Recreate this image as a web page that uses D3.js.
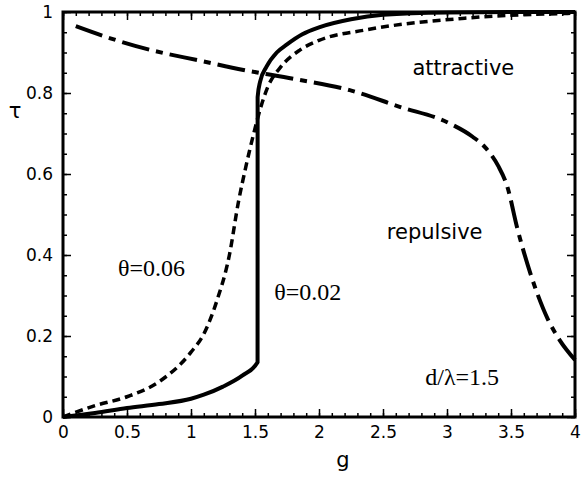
<!DOCTYPE html>
<html>
<head>
<meta charset="utf-8">
<script src="https://cdn.jsdelivr.net/npm/d3@7"></script>
<style>
  body { margin: 0; background: #fff; }
  .tick-label { font-family: "DejaVu Sans", sans-serif; font-size: 17px; fill: #000; }
  .sans-note { font-family: "DejaVu Sans", sans-serif; font-size: 21px; fill: #000; }
  .serif-note { font-family: "Liberation Serif", serif; font-size: 24px; fill: #000; }
</style>
</head>
<body>
<div id="chart"></div>
<script>
// Values
const gSolid = [0, 0.25, 0.5, 0.75, 1.0, 1.1, 1.25, 1.4, 1.52, 1.5205, 1.54, 1.59, 1.67, 1.75, 1.87, 2.0, 2.25, 2.5, 3.0, 3.5, 4.0];
const tauSolid = [0, 0.01, 0.022, 0.032, 0.045, 0.055, 0.075, 0.102, 0.135, 0.79, 0.828, 0.865, 0.9, 0.92, 0.945, 0.962, 0.982, 0.993, 0.999, 1.0, 1.0];

const gDashed = [0, 0.25, 0.5, 0.75, 1.0, 1.1, 1.2, 1.3, 1.37, 1.43, 1.49, 1.55, 1.6, 1.7, 1.85, 2.0, 2.37, 3.15, 4.0];
const tauDashed = [0, 0.028, 0.05, 0.087, 0.16, 0.205, 0.285, 0.4, 0.53, 0.62, 0.7, 0.77, 0.815, 0.864, 0.906, 0.93, 0.956, 0.985, 0.997];

const gDashDot = [0.1, 0.37, 0.7, 1.07, 1.41, 1.8, 2.24, 2.63, 3.02, 3.2, 3.3, 3.4, 3.47, 3.55, 3.65, 3.79, 3.88, 4.0];
const tauDashDot = [0.965, 0.935, 0.905, 0.88, 0.857, 0.835, 0.807, 0.766, 0.725, 0.692, 0.665, 0.62, 0.57, 0.465, 0.356, 0.24, 0.19, 0.141];

const xTicks = [0, 0.5, 1, 1.5, 2, 2.5, 3, 3.5, 4];
const xTickLabels = ['0', '0.5', '1', '1.5', '2', '2.5', '3', '3.5', '4'];
const yTicks = [0, 0.2, 0.4, 0.6, 0.8, 1];
const yTickLabels = ['0', '0.2', '0.4', '0.6', '0.8', '1'];

const notes = [
    { text: 'attractive', g: 2.73, tau: 0.845, cls: 'sans-note' },
    { text: 'repulsive', g: 2.53, tau: 0.44, cls: 'sans-note' },
    { text: 'θ=0.06', g: 0.43, tau: 0.348, cls: 'serif-note' },
    { text: 'θ=0.02', g: 1.65, tau: 0.289, cls: 'serif-note' },
    { text: 'd/λ=1.5', g: 2.83, tau: 0.08, cls: 'serif-note' }
];

const svgWidth = 581;
const svgHeight = 478;
const margin = { top: 12, right: 6, bottom: 61, left: 63 };
const width = svgWidth - margin.left - margin.right;
const height = svgHeight - margin.top - margin.bottom;

const svg = d3.select('#chart')
    .append('svg')
    .attr('width', svgWidth)
    .attr('height', svgHeight)
    .append('g')
    .attr('transform', `translate(${margin.left},${margin.top})`);

// Scales
const xScale = d3.scaleLinear().domain([0, 4]).range([0, width]);
const yScale = d3.scaleLinear().domain([0, 1]).range([height, 0]);

// Inward ticks on all four sides
const xMinor = d3.range(0, 4.001, 0.1).map(v => +v.toFixed(2));
const yMinor = d3.range(0, 1.001, 0.05).map(v => +v.toFixed(2));

function tickAxis(axisFn, scale, values, size, transform) {
    svg.append('g')
        .attr('transform', transform)
        .call(axisFn(scale).tickValues(values).tickSize(size).tickFormat(''))
        .call(g => g.select('.domain').remove())
        .call(g => g.selectAll('line').attr('stroke', '#000').attr('stroke-width', 1.5));
}
tickAxis(d3.axisTop, xScale, xMinor, 4, `translate(0,${height})`);
tickAxis(d3.axisTop, xScale, xTicks, 8, `translate(0,${height})`);
tickAxis(d3.axisBottom, xScale, xMinor, 4, 'translate(0,0)');
tickAxis(d3.axisBottom, xScale, xTicks, 8, 'translate(0,0)');
tickAxis(d3.axisRight, yScale, yMinor, 4, 'translate(0,0)');
tickAxis(d3.axisRight, yScale, yTicks, 8, 'translate(0,0)');
tickAxis(d3.axisLeft, yScale, yMinor, 4, `translate(${width},0)`);
tickAxis(d3.axisLeft, yScale, yTicks, 8, `translate(${width},0)`);

// Tick labels
svg.append('g')
    .attr('transform', `translate(0,${height})`)
    .call(d3.axisBottom(xScale).tickValues(xTicks).tickSize(0).tickPadding(9)
        .tickFormat((d, i) => xTickLabels[i]))
    .call(g => g.select('.domain').remove())
    .call(g => g.selectAll('text').attr('class', 'tick-label').attr('font-size', null).attr('font-family', null));
svg.append('g')
    .call(d3.axisLeft(yScale).tickValues(yTicks).tickSize(0).tickPadding(10)
        .tickFormat((d, i) => yTickLabels[i]))
    .call(g => g.select('.domain').remove())
    .call(g => g.selectAll('text').attr('class', 'tick-label').attr('font-size', null).attr('font-family', null));

// Curves
const line = d3.line()
    .x(d => xScale(d[0]))
    .y(d => yScale(d[1]))
    .curve(d3.curveMonotoneX);

svg.append('path')
    .datum(gDashDot.map((g, i) => [g, tauDashDot[i]]))
    .attr('fill', 'none')
    .attr('stroke', '#000')
    .attr('stroke-width', 4)
    .attr('stroke-dasharray', '28,7,7,7')
    .attr('d', line);

svg.append('path')
    .datum(gDashed.map((g, i) => [g, tauDashed[i]]))
    .attr('fill', 'none')
    .attr('stroke', '#000')
    .attr('stroke-width', 3.5)
    .attr('stroke-dasharray', '8,5')
    .attr('d', line);

svg.append('path')
    .datum(gSolid.map((g, i) => [g, tauSolid[i]]))
    .attr('fill', 'none')
    .attr('stroke', '#000')
    .attr('stroke-width', 4)
    .attr('d', line);

// Frame
svg.append('rect')
    .attr('width', width)
    .attr('height', height)
    .attr('fill', 'none')
    .attr('stroke', '#000')
    .attr('stroke-width', 3);

// Axis titles
svg.append('text')
    .attr('class', 'sans-note')
    .attr('x', 280)
    .attr('y', height + 50)
    .attr('text-anchor', 'middle')
    .text('g');
svg.append('text')
    .attr('class', 'sans-note')
    .attr('x', -48)
    .attr('y', 106)
    .attr('text-anchor', 'middle')
    .text('τ');

// Annotations
svg.selectAll('.note')
    .data(notes)
    .enter()
    .append('text')
    .attr('class', d => d.cls)
    .attr('x', d => xScale(d.g))
    .attr('y', d => yScale(d.tau))
    .text(d => d.text);
</script>
</body>
</html>
